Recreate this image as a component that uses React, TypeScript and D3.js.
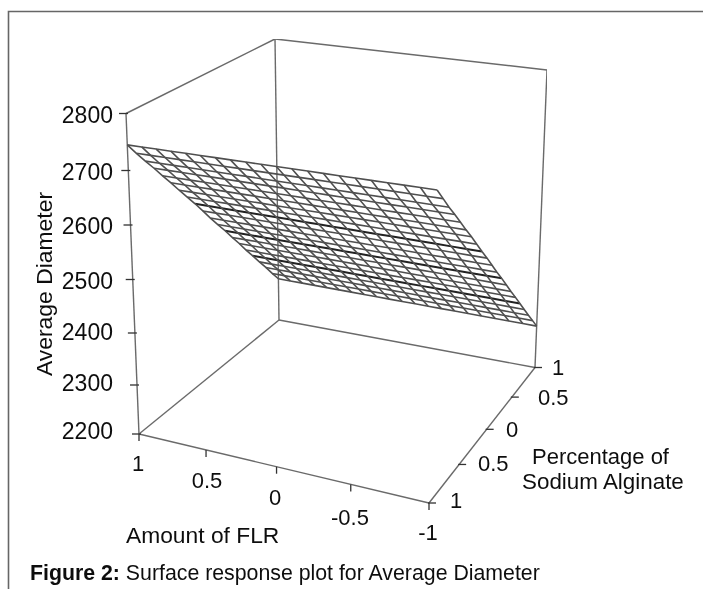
import React from "react";
import * as d3 from "d3";

// ---- data ----
const zTicks = [2200, 2300, 2400, 2500, 2600, 2700, 2800];
const flrTicks = [1, 0.5, 0, -0.5, -1];
const flrTickLabels = ["1", "0.5", "0", "-0.5", "-1"];
const sodiumTicks = [-1, -0.5, 0, 0.5, 1];
const sodiumTickLabels = ["1", "0.5", "0", "0.5", "1"];
const gridLevels = [-1, -0.9, -0.8, -0.7, -0.6, -0.5, -0.4, -0.3, -0.2, -0.1, 0, 0.1, 0.2, 0.3, 0.4, 0.5, 0.6, 0.7, 0.8, 0.9, 1];
// surface height at the two FLR limits, for sodium = -1 ... 1
const diameterAtFlrHigh = [2745, 2722, 2700, 2678, 2655, 2633, 2610, 2588, 2566, 2543, 2520, 2498, 2476, 2453, 2431, 2408, 2386, 2363, 2341, 2318, 2296];
const diameterAtFlrLow = [2745, 2722, 2699, 2677, 2654, 2631, 2609, 2586, 2563, 2541, 2518, 2495, 2473, 2450, 2427, 2405, 2382, 2359, 2336, 2314, 2291];
const darkSodiumLevels = [-0.2, 0.2, 0.6];

// ---- projection anchors (screen layout) ----
type P = [number, number];
const floorQuad: P[] = [[139, 434], [279, 320], [535, 367.5], [429, 503]]; // L, B, R, F
const topQuad: P[] = [[126, 113.5], [275, 39], [547, 70], [438, 156]];

function quadMap(q: P[]) {
  // unit square -> quadrilateral homography; (u,v): (0,0)=q0,(1,0)=q1,(1,1)=q2,(0,1)=q3
  const [p0, p1, p2, p3] = q;
  const dx1 = p1[0] - p2[0], dx2 = p3[0] - p2[0], sx = p0[0] - p1[0] + p2[0] - p3[0];
  const dy1 = p1[1] - p2[1], dy2 = p3[1] - p2[1], sy = p0[1] - p1[1] + p2[1] - p3[1];
  const det = dx1 * dy2 - dx2 * dy1;
  const g = (sx * dy2 - dx2 * sy) / det;
  const h = (dx1 * sy - sx * dy1) / det;
  const a = p1[0] - p0[0] + g * p1[0], b = p3[0] - p0[0] + h * p3[0];
  const d = p1[1] - p0[1] + g * p1[1], e = p3[1] - p0[1] + h * p3[1];
  return (u: number, v: number): P => {
    const w = g * u + h * v + 1;
    return [(a * u + b * v + p0[0]) / w, (d * u + e * v + p0[1]) / w];
  };
}
const floorMap = quadMap(floorQuad);
const topMap = quadMap(topQuad);
const uScale = d3.scaleLinear().domain([-1, 1]).range([0, 1]); // sodium
const vScale = d3.scaleLinear().domain([1, -1]).range([0, 1]); // FLR
const zScale = d3.scaleLinear().domain(zTicks).range([0, 49 / 320.5, 101 / 320.5, 154.5 / 320.5, 209 / 320.5, 263.5 / 320.5, 1]);

function project(flr: number, sodium: number, z: number): P {
  const f = floorMap(uScale(sodium), vScale(flr));
  const t = topMap(uScale(sodium), vScale(flr));
  const k = zScale(z);
  return [f[0] + (t[0] - f[0]) * k, f[1] + (t[1] - f[1]) * k];
}
const line3 = d3.line<P>();
const zMin = 2200, zMax = 2800;
const seg = (a: P, b: P) => line3([a, b]) as string;

const surfaceZ = (flr: number, i: number) =>
  d3.scaleLinear().domain([1, -1]).range([diameterAtFlrHigh[i], diameterAtFlrLow[i]])(flr);

// Lines of constant sodium and lines of constant FLR
const constSodium = gridLevels.map((_, i) =>
  gridLevels.map((flr) => project(flr, gridLevels[i], surfaceZ(flr, i))));
const constFlr = gridLevels.map((flr) =>
  gridLevels.map((s, i) => project(flr, s, surfaceZ(flr, i))));

const axisColor = "#6a6a6a";
const meshColor = "#505050";
const font = "'Liberation Sans', Arial, sans-serif";

const flrLabelPos: P[] = [[138, 471], [207, 488], [275, 505], [350, 525], [428, 540]];
const sodiumLabelPos: P[] = [[450, 508], [478, 471], [512, 437], [538, 405], [552, 375]];

export default function App() {
  const L = [1, -1], B = [1, 1], R = [-1, 1], F = [-1, -1];
  const edges: [number[], number, number[], number][] = [
    [L, zMin, F, zMin], [F, zMin, R, zMin], [L, zMin, B, zMin], [B, zMin, R, zMin],
    [L, zMin, L, zMax], [B, zMin, B, zMax], [R, zMin, R, zMax],
    [L, zMax, B, zMax], [B, zMax, R, zMax],
  ];
  return (
    <svg width={703} height={589} style={{ position: "absolute", left: 0, top: 0, background: "#fff", fontFamily: font }}>
      <defs>
        <filter id="soft" x="0" y="0" width="100%" height="100%">
          <feGaussianBlur stdDeviation="0.45" />
        </filter>
        <filter id="softText" x="-5%" y="-5%" width="110%" height="110%">
          <feGaussianBlur stdDeviation="0.25" />
        </filter>
      </defs>
      <path d="M8.5 589V11.5H703" fill="none" stroke="#666" strokeWidth={1.6} />
      <g filter="url(#soft)">
        {edges.map(([a, za, b, zb], i) => (
          <path key={i} d={seg(project(a[0], a[1], za), project(b[0], b[1], zb))} stroke={axisColor} strokeWidth={1.4} fill="none" />
        ))}
        {/* z ticks */}
        {zTicks.map((z) => {
          const p = project(1, -1, z);
          return <path key={z} d={line3([[p[0] - 7, p[1]], [p[0] + 2, p[1]]]) as string} stroke="#333" strokeWidth={1.3} />;
        })}
        {flrTicks.map((t) => {
          const p = project(t, -1, zMin);
          return <path key={t} d={line3([[p[0], p[1]], [p[0], p[1] + 7]]) as string} stroke="#333" strokeWidth={1.3} />;
        })}
        {sodiumTicks.map((t) => {
          const p = project(-1, t, zMin);
          return <path key={t} d={line3([[p[0] - 1, p[1]], [p[0] + 7, p[1]]]) as string} stroke="#333" strokeWidth={1.3} />;
        })}
        {constSodium.map((pts, i) => (
          <path key={i} d={line3(pts) as string} fill="none"
            stroke={darkSodiumLevels.includes(gridLevels[i]) ? "#222" : meshColor}
            strokeWidth={darkSodiumLevels.includes(gridLevels[i]) ? 2 : 1.6} />
        ))}
        {constFlr.map((pts, i) => (
          <path key={i} d={line3(pts) as string} fill="none" stroke={meshColor} strokeWidth={1.6} />
        ))}
      </g>
      <g filter="url(#softText)">
        <g fill="#111" fontSize={23}>
          {zTicks.map((z) => {
            const p = project(1, -1, z);
            return <text key={z} x={113} y={p[1] + (z === 2200 ? 5 : z === 2300 ? 6 : z === 2400 ? 7 : 9)} textAnchor="end">{z}</text>;
          })}
        </g>
        <g fill="#111" fontSize={22}>
          {flrTickLabels.map((s, i) => (
            <text key={i} x={flrLabelPos[i][0]} y={flrLabelPos[i][1]} textAnchor="middle">{s}</text>
          ))}
          {sodiumTickLabels.map((s, i) => (
            <text key={i} x={sodiumLabelPos[i][0]} y={sodiumLabelPos[i][1]} textAnchor={i === 2 ? "middle" : "start"}>{s}</text>
          ))}
          <text x={126} y={543} fontSize={22.8}>Amount of FLR</text>
          <text x={532} y={464}>Percentage of</text>
          <text x={522} y={489} fontSize={22.4}>Sodium Alginate</text>
          <text transform="translate(52,284) rotate(-90)" textAnchor="middle" fontSize={22.9}>Average Diameter</text>
        </g>
        <text x={30} y={580} fontSize={21.3} fill="#111">
          <tspan fontWeight="bold">Figure 2:</tspan> Surface response plot for Average Diameter
        </text>
      </g>
    </svg>
  );
}
